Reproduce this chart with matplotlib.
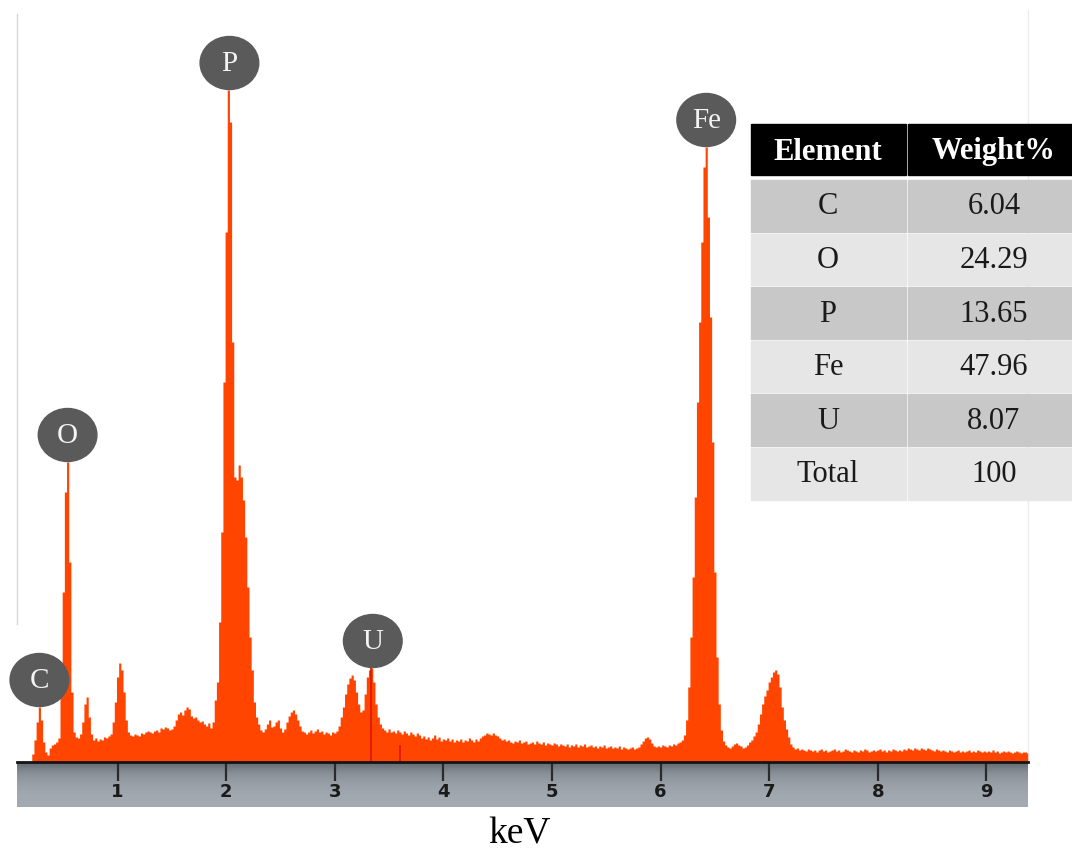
import numpy as np
import matplotlib
matplotlib.use('Agg')
import matplotlib.pyplot as plt
from matplotlib.patches import Ellipse, Rectangle
from matplotlib.colors import LinearSegmentedColormap

# EDS spectrum, 0.02 keV channels starting at 0.20 keV (counts)
start_kev = 0.20
step_kev = 0.02
counts = [
    0, 8, 22, 40, 55, 42, 20, 10, 7, 14,            # 0.20
    17, 18, 20, 24, 70, 170, 270, 300, 200, 70,     # 0.40
    30, 25, 24, 28, 40, 58, 65, 45, 28, 22,         # 0.60
    24, 21, 23, 22, 25, 24, 26, 28, 40, 60,         # 0.80
    85, 99, 92, 70, 42, 30, 27, 26, 28, 27,         # 1.00
    26, 29, 28, 30, 31, 30, 29, 31, 32, 30,         # 1.20
    34, 33, 35, 34, 32, 33, 36, 42, 48, 50,         # 1.40
    47, 52, 55, 53, 46, 44, 45, 42, 40, 41,         # 1.60
    38, 36, 39, 34, 40, 62, 80, 140, 230, 380,      # 1.80
    530, 672, 640, 420, 285, 282, 297, 285, 262, 225,  # 2.00
    175, 125, 92, 60, 45, 38, 32, 30, 33, 38,       # 2.20
    42, 35, 36, 40, 42, 34, 30, 33, 40, 46,         # 2.40
    50, 52, 48, 42, 36, 31, 30, 28, 30, 32,         # 2.60
    29, 31, 33, 30, 31, 28, 30, 29, 27, 30,         # 2.80
    29, 31, 36, 45, 55, 68, 78, 84, 87, 82,         # 3.00
    70, 58, 50, 52, 68, 85, 92, 94, 80, 58,         # 3.20
    45, 38, 34, 32, 30, 33, 30, 31, 29, 32,         # 3.40
    30, 28, 31, 29, 27, 30, 28, 26, 29, 27,         # 3.60
    24, 26, 23, 25, 22, 24, 27, 23, 25, 21,         # 3.80
    23, 22, 24, 21, 23, 20, 22, 21, 23, 20,         # 4.00
    22, 21, 24, 22, 20, 23, 21, 24, 26, 27,         # 4.20
    29, 28, 27, 29, 27, 26, 24, 22, 23, 21,         # 4.40
    22, 20, 19, 21, 20, 22, 19, 20, 21, 18,         # 4.60
    19, 20, 18, 21, 19, 18, 20, 17, 19, 18,         # 4.80
    17, 19, 18, 16, 18, 17, 16, 18, 15, 17,         # 5.00
    16, 18, 15, 17, 16, 18, 15, 16, 17, 15,         # 5.20
    16, 14, 16, 15, 17, 14, 15, 16, 14, 15,         # 5.40
    14, 16, 13, 15, 14, 13, 14, 15, 13, 14,         # 5.60
    15, 18, 21, 24, 25, 23, 19, 16, 15, 16,         # 5.80
    15, 17, 16, 15, 17, 16, 18, 17, 19, 20,         # 6.00
    22, 27, 42, 75, 125, 185, 265, 360, 440, 520,   # 6.20
    595, 615, 545, 445, 320, 190, 105, 58, 32, 21,  # 6.40
    17, 15, 14, 16, 18, 19, 17, 16, 14, 15,         # 6.60
    17, 20, 22, 26, 30, 38, 48, 58, 66, 72,         # 6.80
    80, 85, 90, 92, 88, 75, 55, 42, 33, 25,         # 7.00
    18, 15, 13, 14, 12, 13, 12, 11, 13, 12,         # 7.20
    11, 12, 10, 12, 13, 11, 12, 10, 11, 12,         # 7.40
    13, 11, 12, 10, 11, 13, 12, 11, 10, 12,         # 7.60
    11, 10, 12, 11, 13, 12, 10, 11, 12, 11,         # 7.80
    12, 13, 11, 12, 10, 12, 11, 13, 12, 11,         # 8.00
    12, 11, 13, 12, 14, 13, 12, 14, 13, 12,         # 8.20
    14, 13, 12, 14, 13, 12, 11, 13, 12, 11,         # 8.40
    12, 11, 10, 12, 11, 10, 11, 12, 10, 11,         # 8.60
    10, 11, 12, 10, 11, 10, 12, 11, 10, 11,         # 8.80
    10, 11, 10, 12, 10, 11, 9, 10, 11, 10,          # 9.00
    11, 10, 9, 10, 11, 10, 9, 10, 10, 9,            # 9.20
]

peak_names = ['C', 'O', 'P', 'U', 'Fe']
peak_kev = [0.28, 0.54, 2.03, 3.35, 6.42]
peak_counts = [55, 300, 672, 94, 615]

marker_kev = [3.33, 3.60]
marker_counts = [94, 17]

tick_kev = [1, 2, 3, 4, 5, 6, 7, 8, 9]

elements = ['C', 'O', 'P', 'Fe', 'U', 'Total']
weights = ['6.04', '24.29', '13.65', '47.96', '8.07', '100']

W, H = 1072, 852
def fr(x0, y0, x1, y1):
    # pixel box (top-left origin) -> figure fraction rect
    return [x0 / W, 1 - y1 / H, (x1 - x0) / W, (y1 - y0) / H]

energy = start_kev + step_kev * np.arange(len(counts))
xlim = (0.074, 9.383)
serif = 'Liberation Serif'

fig = plt.figure(figsize=(W / 100, H / 100), dpi=100)

# overlay in pixel coordinates for frame lines
ov = fig.add_axes([0, 0, 1, 1], zorder=0)
ov.set_xlim(0, W)
ov.set_ylim(H, 0)
ov.axis('off')
ov.plot([17, 17], [14, 624], color='#d6d6d6', lw=1)
ov.plot([1028, 1028], [10, 760], color='#ececec', lw=1)

# spectrum
ax = fig.add_axes(fr(17, 10, 1028, 762), zorder=2)
ax.patch.set_alpha(0)
ax.fill_between(energy, counts, step='mid', color='#ff4500', lw=0)
ax.vlines(marker_kev, 0, marker_counts, color='#e01800', lw=1.3)
ax.set_xlim(*xlim)
ax.set_ylim(0, 752)
ax.axis('off')

for name, kx, ky in zip(peak_names, peak_kev, peak_counts):
    ax.add_patch(Ellipse((kx, ky + 27), 0.54, 53, color='#5a5a5a', clip_on=False, zorder=5))
    ax.text(kx, ky + 26, name, ha='center', va='center', color='#f4f4f4',
            family=serif, fontsize=21, zorder=6, clip_on=False)

# gray energy bar
axb = fig.add_axes(fr(17, 762, 1028, 807), zorder=3)
cm = LinearSegmentedColormap.from_list('bar', ['#656b72', '#899097', '#9aa0a8', '#a2a8b0', '#a4aab2'])
axb.imshow(np.linspace(0, 1, 50)[:, None], cmap=cm, aspect='auto',
           extent=[xlim[0], xlim[1], 0, 1], origin='upper')
axb.set_xlim(*xlim)
axb.set_ylim(0, 1)
axb.set_yticks([])
axb.set_xticks(tick_kev)
axb.set_xticklabels([str(t) for t in tick_kev], fontweight='bold', fontsize=13, color='#1a1a1a')
axb.tick_params(axis='x', top=True, bottom=False, direction='in', length=14, width=1.6,
                color='#2a2a2a', labeltop=False, labelbottom=True, pad=-17)
for s in ['left', 'right', 'bottom']:
    axb.spines[s].set_visible(False)
axb.spines['top'].set_color('#151515')
axb.spines['top'].set_linewidth(2)

fig.text(519 / W, 1 - 834 / H, 'keV', family=serif, fontsize=27, ha='center', va='center')

# weight% table
tb = fig.add_axes([0, 0, 1, 1], zorder=4)
tb.set_xlim(0, W)
tb.set_ylim(H, 0)
tb.axis('off')
cols = [(751, 906), (908, 1072)]
tb.add_patch(Rectangle((751, 124), 155, 51, color='black'))
tb.add_patch(Rectangle((908, 124), 164, 51, color='black'))
tb.text(828, 152, 'Element', ha='center', va='center', color='white', family=serif,
        fontsize=22, fontweight='bold')
tb.text(994, 152, 'Weight%', ha='center', va='center', color='white', family=serif,
        fontsize=22, fontweight='bold')
for i, (el, wt) in enumerate(zip(elements, weights)):
    y0 = 180 + i * 53.6
    c = '#c8c8c8' if i % 2 == 0 else '#e6e6e6'
    for (x0, x1) in cols:
        tb.add_patch(Rectangle((x0, y0), x1 - x0, 51.6, color=c))
    tb.text(828, y0 + 27, el, ha='center', va='center', color='#1a1a1a', family=serif, fontsize=22)
    tb.text(994, y0 + 27, wt, ha='center', va='center', color='#1a1a1a', family=serif, fontsize=22)

fig.savefig('out.png', dpi=100)
